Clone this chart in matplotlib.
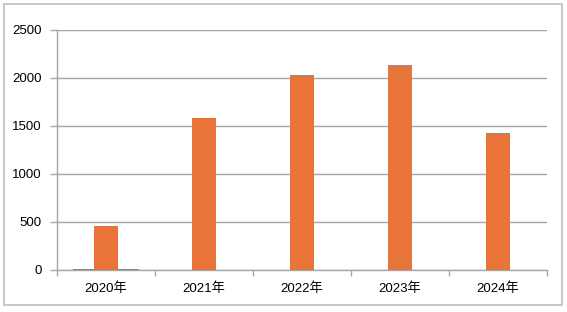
import matplotlib
matplotlib.use("Agg")
import matplotlib.pyplot as plt
from matplotlib.patches import Rectangle
import numpy as np

plt.rcParams['font.family'] = ['Liberation Sans', 'Noto Sans CJK SC', 'DejaVu Sans']

categories = ['2020年', '2021年', '2022年', '2023年', '2024年']
values = [458, 1583, 2031, 2135, 1427]
minor_values = [9, 0, 0, 0, 0]
y_ticks = [0, 500, 1000, 1500, 2000, 2500]

fig = plt.figure(figsize=(5.67, 3.12), dpi=100)
fig.patches.append(Rectangle((4/567, 7/312), 558/567, 301/312, transform=fig.transFigure,
                             fill=False, edgecolor='#BFBFBF', linewidth=1.2))
ax = fig.add_axes([57/567, 42/312, 490/567, 240/312])

x = np.arange(len(categories))
ax.bar(x, minor_values, width=0.68, color='#7A8C8A', zorder=3, linewidth=0)
ax.bar(x, values, width=0.235, color='#E9743A', zorder=4, linewidth=0)

ax.set_xlim(-0.5, len(categories) - 0.5)
ax.set_ylim(0, 2500)
ax.set_yticks(y_ticks)
ax.set_yticklabels([str(v) for v in y_ticks])
ax.yaxis.grid(True, color='#A6A6A6', linewidth=1.0, zorder=0)
ax.set_axisbelow(True)

ax.set_xticks(x)
ax.set_xticklabels(categories)
ax.tick_params(axis='x', length=0, pad=9, labelsize=9.5, colors='#000000')
ax.set_xticks(np.arange(-0.5, len(categories)), minor=True)
ax.tick_params(axis='x', which='minor', length=4, color='#A6A6A6', width=1)
ax.tick_params(axis='y', length=5, color='#A6A6A6', width=1, pad=6, labelsize=9.5)

for s in ['top', 'right']:
    ax.spines[s].set_visible(False)
for s in ['left', 'bottom']:
    ax.spines[s].set_color('#A6A6A6')
    ax.spines[s].set_linewidth(1.0)

fig.savefig('out.png', dpi=100)
